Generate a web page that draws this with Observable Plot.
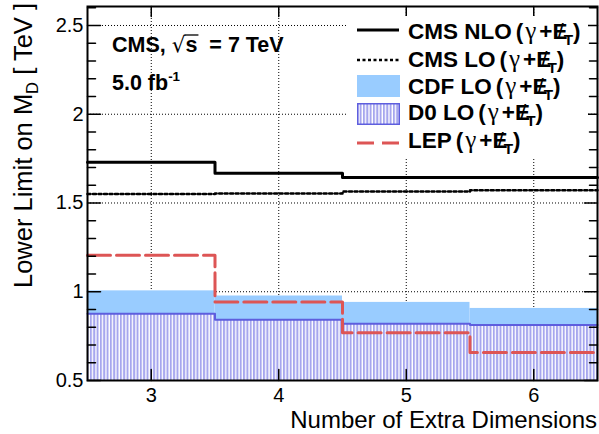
<!DOCTYPE html>
<html><head><meta charset="utf-8">
<script src="https://cdn.jsdelivr.net/npm/d3@7"></script>
<script src="https://cdn.jsdelivr.net/npm/@observablehq/plot@0.6"></script>
<style>
html,body{margin:0;padding:0;background:#fff;}
#chart{position:relative;width:599px;height:434px;}
svg text{font-family:"Liberation Sans",Arial,Helvetica,sans-serif;}
</style></head><body><div id="chart"></div>
<script>
// ---- data ----
const dims = [3, 4, 5, 6];
const binEdges = [2.5, 3.5, 4.5, 5.5, 6.5];
const cmsNLO = [1.73, 1.667, 1.644, 1.644];
const cmsLO = [1.551, 1.553, 1.565, 1.572];
const cdfLO = [1.005, 0.976, 0.94, 0.906];
const d0LO = [0.876, 0.842, 0.82, 0.812];
const lep = [1.205, 0.942, 0.769, 0.658];
const xTicks = [3, 4, 5, 6];
const yMajor = [0.5, 1, 1.5, 2, 2.5];
const yMinor = [0.6,0.7,0.8,0.9,1.1,1.2,1.3,1.4,1.6,1.7,1.8,1.9,2.1,2.2,2.3,2.4,2.6];
const yGrid = [1, 1.5, 2, 2.5];
const xDomain = [2.5, 6.5];
const yDomain = [0.5, 2.607];
const legendNames = ["CMS NLO", "CMS LO", "CDF LO", "D0 LO", "LEP"];
const xLabel = "Number of Extra Dimensions";

// ---- helpers ----
const steps = vals => binEdges.map((e, i) => ({x: e, y: vals[Math.min(i, vals.length - 1)]}));
const bins = vals => vals.map((v, i) => ({x1: binEdges[i], x2: binEdges[i + 1], y: v}));
const tickShape = {draw(ctx, l) { ctx.moveTo(0, 0); ctx.lineTo(0, -l); }};

const C = {cdf: "#99ccff", d0: "#5e5ede", hatch: "#a6a6ee", lep: "#dd5555"};

const plot = Plot.plot({
  width: 599, height: 434,
  marginLeft: 87, marginRight: 2, marginTop: 6, marginBottom: 54,
  x: {domain: xDomain},
  y: {domain: yDomain},
  style: {fontFamily: '"Liberation Sans", Arial, sans-serif', background: "white", color: "black"},
  marks: [
    Plot.gridX(xTicks, {stroke: "black", strokeOpacity: 1, strokeWidth: 1, strokeDasharray: "1,2"}),
    Plot.gridY(yGrid, {stroke: "black", strokeOpacity: 1, strokeWidth: 1, strokeDasharray: "1,2"}),
    Plot.rectY(bins(cdfLO), {x1: "x1", x2: "x2", y1: yDomain[0], y2: "y", fill: C.cdf}),
    Plot.rectY(bins(d0LO), {x1: "x1", x2: "x2", y1: yDomain[0], y2: "y", fill: "url(#d0hatch)"}),
    Plot.line(steps(d0LO), {x: "x", y: "y", curve: "step-after", stroke: C.d0, strokeWidth: 2}),
    Plot.line(steps(lep), {x: "x", y: "y", curve: "step-after", stroke: C.lep, strokeWidth: 3, strokeDasharray: "23,6"}),
    Plot.line(steps(cmsLO), {x: "x", y: "y", curve: "step-after", stroke: "black", strokeWidth: 2.5, strokeDasharray: "3,2.5"}),
    Plot.line(steps(cmsNLO), {x: "x", y: "y", curve: "step-after", stroke: "black", strokeWidth: 3}),
    Plot.frame({stroke: "black", strokeWidth: 2}),
    Plot.vector(yMajor, {y: d => d, frameAnchor: "left", rotate: 90, length: 13, anchor: "start", shape: tickShape, stroke: "black", strokeWidth: 1.5}),
    Plot.vector(yMinor, {y: d => d, frameAnchor: "left", rotate: 90, length: 8, anchor: "start", shape: tickShape, stroke: "black", strokeWidth: 1.5}),
    Plot.vector(yMajor, {y: d => d, frameAnchor: "right", rotate: 270, length: 13, anchor: "start", shape: tickShape, stroke: "black", strokeWidth: 1.5}),
    Plot.vector(yMinor, {y: d => d, frameAnchor: "right", rotate: 270, length: 8, anchor: "start", shape: tickShape, stroke: "black", strokeWidth: 1.5}),
    Plot.vector(xTicks, {x: d => d, frameAnchor: "bottom", rotate: 0, length: 11, anchor: "start", shape: tickShape, stroke: "black", strokeWidth: 1.5}),
    Plot.vector(xTicks, {x: d => d, frameAnchor: "top", rotate: 180, length: 10, anchor: "start", shape: tickShape, stroke: "black", strokeWidth: 1.5}),
    Plot.axisY(yMajor, {tickSize: 0, tickPadding: 4, fontSize: 20, label: null, tickFormat: d => String(d)}),
    Plot.axisX(xTicks, {tickSize: 0, tickPadding: 7, fontSize: 20, label: null, tickFormat: d => String(d)})
  ]
});
document.getElementById("chart").appendChild(plot);

const svg = d3.select(plot);
// hatch pattern
const defs = svg.insert("defs", ":first-child");
const pat = defs.append("pattern").attr("id", "d0hatch").attr("patternUnits", "userSpaceOnUse")
  .attr("width", 3.33).attr("height", 10);
pat.append("rect").attr("width", 3.33).attr("height", 10).attr("fill", "white");
pat.append("rect").attr("x", 0).attr("width", 2).attr("height", 10).attr("fill", C.hatch);

// axis titles
svg.append("text").attr("transform", "translate(32,3) rotate(-90)").attr("text-anchor", "end")
  .attr("font-size", 25.5).call(t => {
    t.append("tspan").text("Lower Limit on M");
    t.append("tspan").attr("font-size", "65%").attr("dy", 6).text("D");
    t.append("tspan").attr("dy", -6).text(" [ TeV ]");
  });
svg.append("text").attr("x", 597).attr("y", 428).attr("text-anchor", "end").attr("font-size", 24).text(xLabel);

// CMS annotation
const ann = svg.append("text").attr("x", 112).attr("y", 52).attr("text-anchor", "start").attr("font-size", 21.5).attr("font-weight", "bold");
ann.append("tspan").text("CMS, ");
ann.append("tspan").attr("font-weight", "normal").attr("font-family", "DejaVu Sans, sans-serif").text("\u221A");
const sSpan = ann.append("tspan").text("s");
ann.append("tspan").text("  = 7 TeV");
try {
  const bb = sSpan.node().getBBox();
  svg.append("line").attr("x1", bb.x - 1).attr("x2", bb.x + bb.width + 1)
    .attr("y1", bb.y + 2).attr("y2", bb.y + 2).attr("stroke", "black").attr("stroke-width", 1.3);
} catch (e) {}
const lumi = svg.append("text").attr("x", 112).attr("y", 90).attr("text-anchor", "start").attr("font-size", 21.5).attr("font-weight", "bold");
lumi.append("tspan").text("5.0 fb");
lumi.append("tspan").attr("font-size", "62%").attr("dy", -9).text("-1");

// legend
const lg = svg.append("g").attr("text-anchor", "start");
lg.append("rect").attr("x", 348).attr("y", 16).attr("width", 240).attr("height", 142).attr("fill", "white");
const sx1 = 357, sx2 = 400;
lg.append("line").attr("x1", sx1).attr("x2", sx2 - 1).attr("y1", 30).attr("y2", 30).attr("stroke", "black").attr("stroke-width", 3);
lg.append("line").attr("x1", sx1).attr("x2", sx2 - 1).attr("y1", 60).attr("y2", 60).attr("stroke", "black").attr("stroke-width", 2.5).attr("stroke-dasharray", "3,2.5");
lg.append("rect").attr("x", sx1).attr("y", 75).attr("width", sx2 - sx1).attr("height", 22).attr("fill", C.cdf);
lg.append("rect").attr("x", sx1 + 0.75).attr("y", 103.75).attr("width", sx2 - sx1 - 1.5).attr("height", 20.5).attr("fill", "url(#d0hatch)").attr("stroke", C.d0).attr("stroke-width", 1.5);
lg.append("line").attr("x1", sx1).attr("x2", sx2).attr("y1", 143).attr("y2", 143).attr("stroke", C.lep).attr("stroke-width", 3).attr("stroke-dasharray", "17,8");
const baselines = [39, 67, 94, 120, 148];
legendNames.forEach((name, i) => {
  const t = lg.append("text").attr("x", 408).attr("y", baselines[i]).attr("text-anchor", "start").attr("font-size", 22.5).attr("font-weight", "bold");
  t.append("tspan").text(name);
  t.append("tspan").attr("dx", 4).text("(");
  t.append("tspan").attr("dx", 2).attr("font-family", "Liberation Serif, serif").attr("font-size", 25).attr("font-weight", "normal").text("\u03B3");
  t.append("tspan").attr("dx", 3).text("+E");
  t.append("tspan").attr("dx", -10).attr("font-weight", "normal").text("/");
  t.append("tspan").attr("dx", 0).attr("dy", 6).attr("font-size", "68%").text("T");
  t.append("tspan").attr("dx", 0).attr("dy", -6).text(")");
});
</script></body></html>
